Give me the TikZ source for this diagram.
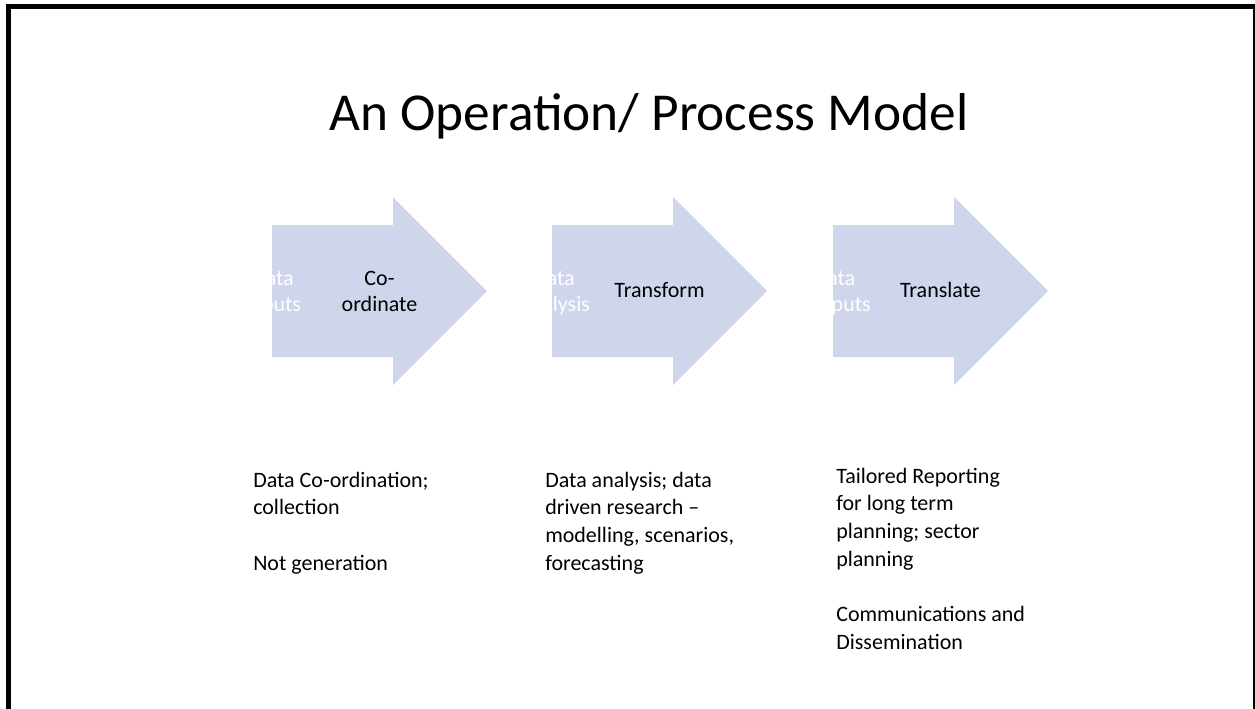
\documentclass[tikz,border=0pt]{standalone}
\usepackage{fontspec}
\setmainfont{Carlito}
\definecolor{arrowfill}{RGB}{207,213,234}

% one process arrow: shaft 121 long, head 94 long, starting at x=#1
\newcommand{\stagearrowpath}[1]{(#1,225) -- ++(121,0) -- ++(0,-28) -- ++(94,94) -- ++(-94,94) -- ++(0,-28) -- ++(-121,0) -- cycle}

\begin{document}
\begin{tikzpicture}[x=0.75pt,y=-0.75pt,
  titletext/.style={font=\fontsize{40}{48}\selectfont, anchor=base, inner sep=0pt},
  stagetext/.style={font=\fontsize{16.5}{19.5}\selectfont, anchor=base, inner sep=0pt},
  hiddentext/.style={stagetext, text=white},
  notetext/.style={font=\fontsize{16.5}{20.8}\selectfont, anchor=base west, inner sep=0pt},
  frameline/.style={line width=3.75pt, draw=black}]
\useasboundingbox (0,0) rectangle (1255,708);
\clip (0,0) rectangle (1255,708);
\fill[white] (0,0) rectangle (1255,708);

% slide frame, open at the bottom
\draw[frameline] (8.5,730) -- (8.5,6.5) -- (1255.5,6.5) -- (1255.5,730);

% title
\node[titletext] (title) at (649,130) {An Operation/ Process Model};

% arrow 1
\begin{scope}
  \clip \stagearrowpath{272};
  \fill[arrowfill] \stagearrowpath{272};
  \node[hiddentext] (hid1) at (273,285) {\begin{tabular}[t]{@{}c@{}}Data\\Inputs\end{tabular}};
\end{scope}
\node[stagetext] (stage1) at (379.5,285) {\begin{tabular}[t]{@{}c@{}}Co-\\ordinate\end{tabular}};

% arrow 2
\begin{scope}
  \clip \stagearrowpath{552};
  \fill[arrowfill] \stagearrowpath{552};
  \node[hiddentext] (hid2) at (554,285) {\begin{tabular}[t]{@{}c@{}}Data\\Analysis\end{tabular}};
\end{scope}
\node[stagetext] (stage2) at (659.5,297) {Transform};

% arrow 3
\begin{scope}
  \clip \stagearrowpath{833};
  \fill[arrowfill] \stagearrowpath{833};
  \node[hiddentext] (hid3) at (834.5,285) {\begin{tabular}[t]{@{}c@{}}Data\\Outputs\end{tabular}};
\end{scope}
\node[stagetext] (stage3) at (940.5,297) {Translate};

% descriptions under the arrows
\node[notetext] (note1) at (253,487) {\begin{tabular}[t]{@{}l@{}}Data Co-ordination; \\collection\\ \\Not generation\end{tabular}};
\node[notetext] (note2) at (545,487) {\begin{tabular}[t]{@{}l@{}}Data analysis; data \\driven research --\\modelling, scenarios, \\forecasting\end{tabular}};
\node[notetext] (note3) at (836,483) {\begin{tabular}[t]{@{}l@{}}Tailored Reporting \\for long term \\planning; sector \\planning\\ \\Communications and \\Dissemination\end{tabular}};
\end{tikzpicture}
\end{document}
